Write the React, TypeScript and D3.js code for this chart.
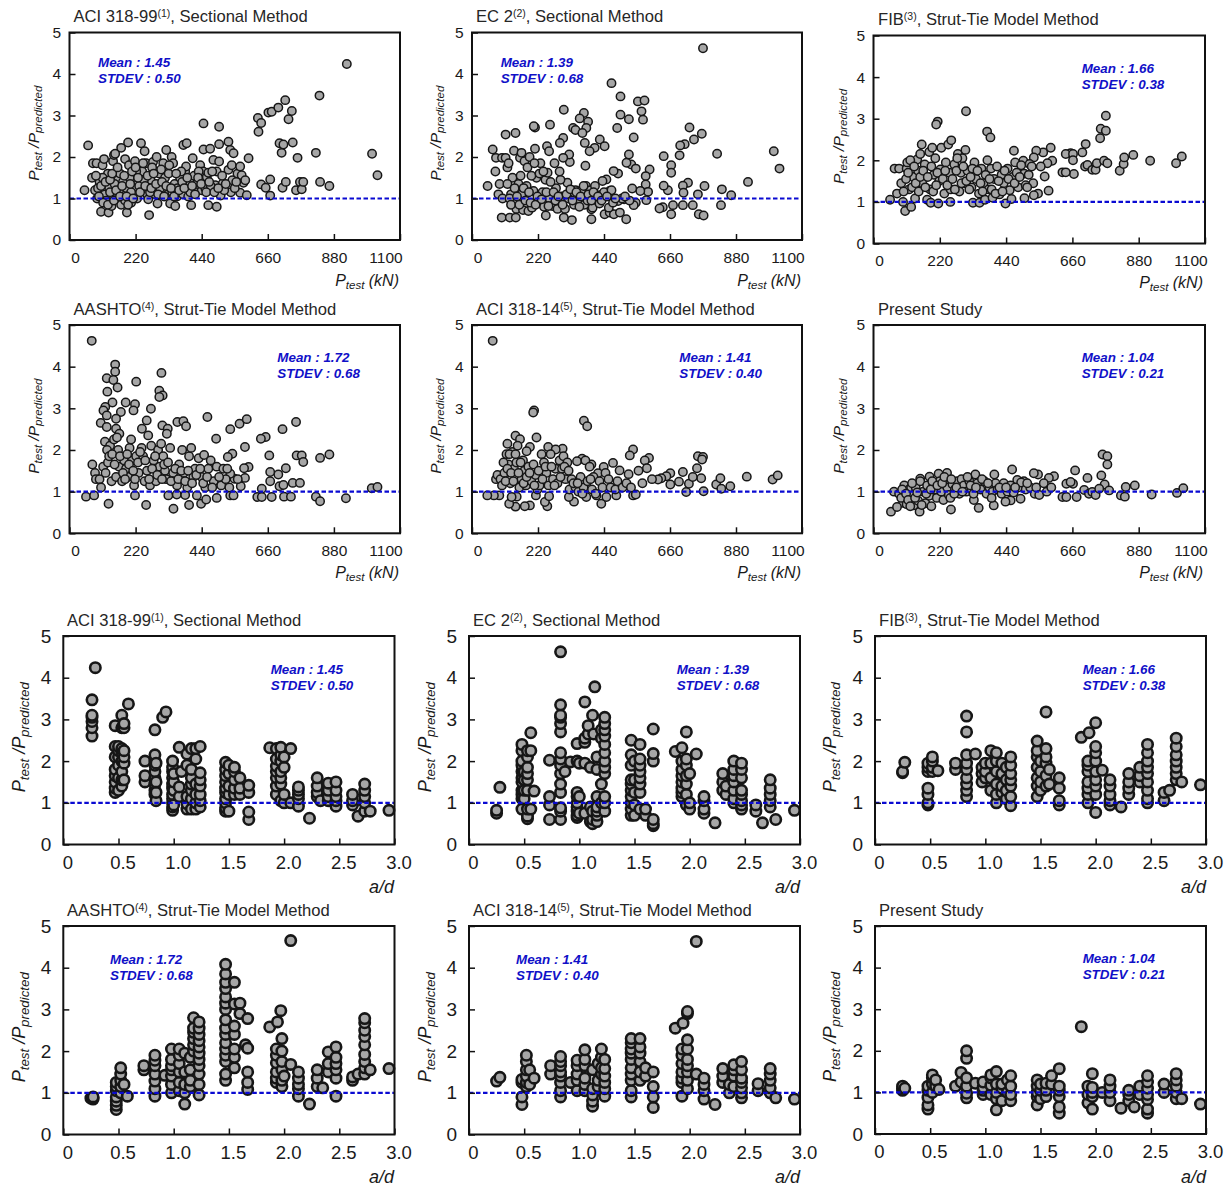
// App.tsx - twelve scatter panels, Ptest/Ppredicted against load and against a/d
import React, { useEffect, useRef } from 'react';
import * as d3 from 'd3';

type Pair = number[];
type Column = [number, number[]];

// ---- Ptest (kN) vs ratio, read from the top two rows ----
const aci99ByLoad: Pair[] = [
  [50,1.2],[62,2.28],[75,1.5],[78,1.85],[90,1.85],[85,1.2],[92,1.0],[100,1.4],[105,.68],[110,1.8],[115,1.95],[118,1.1],[122,.95],[128,1.6],[130,.66],[132,1.25],
  [140,.82],[145,1.9],[148,2.05],[152,2.08],[158,1.0],[162,1.45],[168,1.6],[172,.85],[178,1.4],[180,1.1],[185,.95],[172,2.22],[195,2.35],[185,1.95],[198,1.8],[191,.66],
  [205,.9],[210,1.25],[215,1.5],[218,1.9],[225,1.0],[232,1.3],[240,1.6],[242,1.65],[238,2.33],[250,2.14],[255,1.85],[258,1.1],[262,.98],[265,.6],[270,1.45],[278,1.88],
  [285,1.1],[290,2.0],[293,.88],[298,1.6],[302,1.25],[312,1.85],[318,1.5],[322,2.17],[328,1.1],[335,.88],[340,2.0],[345,1.85],[350,1.35],[352,.82],[358,1.05],[368,1.5],
  [378,1.1],[385,1.65],[379,2.29],[390,2.33],[388,1.77],[395,1.05],[400,1.4],[405,.84],[410,1.97],[415,1.55],[420,1.25],[440,1.2],[435,1.8],[445,1.65],[446,2.18],[462,.84],
  [468,2.2],[457,1.52],[462,1.62],[479,1.93],[490,1.65],[490,.8],[485,1.32],[498,2.31],[498,1.89],[498,2.73],[446,2.81],[503,1.07],[510,1.36],[529,2.37],[529,1.69],[535,2.17],
  [546,2.09],[537,1.15],[540,1.8],[542,1.44],[559,1.6],[568,1.77],[568,1.14],[573,1.56],[579,1.38],[585,1.44],[590,1.08],[596,1.97],[627,2.94],[638,2.82],[629,2.61],
  [638,1.34],[653,1.26],[668,1.46],[668,1.07],[662,3.07],[673,3.09],[695,3.19],[718,3.37],[740,3.11],[729,2.91],[699,2.33],[712,2.3],[743,2.35],[706,2.1],[759,1.98],[709,1.26],
  [720,1.4],[754,1.2],[767,1.4],[773,1.22],[778,1.4],[820,2.1],[834,1.4],[832,3.48],[865,1.3],[923,4.24],[1007,2.08],[1025,1.56],
  [95,1.25],[110,1.5],[135,1.15],[150,1.35],[165,1.2],[190,1.25],[200,1.5],[205,1.15],[222,1.65],[248,1.45],[268,1.15],[275,1.75],[305,1.7],[330,1.6],[342,1.15],[360,1.25],
  [372,1.65],[402,1.15],[425,1.35],[430,1.65],[452,1.25],[470,1.3],[475,1.65],[515,1.2],[550,1.25],
  [88,1.55],[98,1.05],[105,1.3],[112,.9],[120,1.4],[128,.85],[135,1.45],[142,1.6],[148,.95],[155,1.2],[160,1.75],[168,1.05],[175,1.3],[182,1.55],[190,1.05],[195,.85],[202,1.35],[208,1.65],[212,1.0],
  [220,1.75],[228,1.5],[235,1.15],[245,1.85],[252,1.3],[260,1.55],[272,1.25],[280,1.6],[288,1.35],[295,1.1],[308,1.4],[315,1.05],[322,1.3],[332,1.8],[338,1.25],[348,1.05],[355,1.6],[365,1.2],[375,1.4],
  [382,1.25],[392,1.5],[408,1.3],[418,1.1],[428,1.5],[438,1.35],[455,1.15],[465,1.4],[482,1.15],[495,1.25],[508,1.55],[520,1.35],[555,1.4],
];

const ec2ByLoad: Pair[] = [
  [770,4.62],[465,3.78],[495,3.46],[553,3.34],[575,3.36],[565,3.1],[570,2.9],[495,3.02],[523,2.91],[484,2.7],[539,2.47],[306,3.14],[373,3.06],[359,2.93],[387,2.85],[381,2.7],
  [337,2.7],[345,2.65],[368,2.58],[210,2.71],[206,2.74],[260,2.78],[112,2.54],[145,2.58],[304,2.46],[293,2.34],[426,2.42],[376,2.34],[442,2.26],[409,2.22],[392,2.14],[250,2.26],
  [257,2.14],[69,2.18],[725,2.71],[766,2.56],[740,2.42],[709,2.31],[694,2.28],[692,2.04],[639,2.02],[664,1.8],[664,1.62],[817,2.08],[1006,2.14],[1025,1.72],[920,1.4],[864,1.08],
  [833,1.22],[830,.84],[775,1.3],[753,1.1],[736,.84],[756,.62],[772,.59],[720,1.38],[703,1.31],[705,1.14],[703,.84],[670,.84],[664,.62],[653,1.2],[639,1.31],[636,.79],[625,.76],
  [592,1.7],[579,1.54],[579,1.34],[587,1.16],[581,.96],[561,1.18],[534,1.24],[546,.9],[539,.84],[514,.5],[507,.98],[531,1.82],[515,1.86],[523,2.06],[546,1.72],[487,1.6],[472,1.66],
  [459,1.18],[448,1.46],[435,1.42],[442,.62],[459,.66],[473,.62],[493,.66],[487,.94],[456,.78],[426,1.08],[398,.5],[398,.74],[378,1.79],[326,1.88],[324,2.06],[304,1.98],[333,.48],
  [306,.54],[246,.59],[99,.54],[126,.54],[146,.54],[52,1.3],[78,1.65],[80,1.98],[92,1.35],[88,1.1],[100,1.98],[112,1.98],[118,1.75],[122,1.85],[102,1.0],[130,1.1],[135,1.5],[138,.88],
  [140,2.15],[148,.75],[155,1.35],[160,1.98],[165,2.1],[165,1.1],[170,.72],[175,1.9],[182,1.3],[185,1.75],[188,.7],[192,2.0],[200,.78],[205,1.18],[210,2.2],[215,1.5],[222,.92],[228,1.85],
  [235,1.15],[240,.8],[245,1.45],[252,1.62],[258,1.0],[268,.82],[275,1.85],[280,1.25],[285,.75],[292,1.65],[298,1.05],[310,.75],[318,1.38],[322,1.0],[340,.85],[345,1.2],[355,.95],
  [365,1.2],[375,.85],[380,1.3],[385,.95],[395,1.2],[402,.78],[410,1.3],[415,1.0],[425,.88],[440,1.15],[465,1.2],[470,.9],[500,1.0],[525,.95],
  [118,1.35],[125,1.0],[130,.85],[142,1.25],[150,1.05],[158,.85],[162,1.55],[172,1.25],[178,.95],[190,1.15],[195,.9],[198,1.55],[208,1.85],[212,.85],[218,1.05],[225,1.6],[232,.98],[238,1.65],[248,1.15],
  [255,.82],[262,1.4],[272,1.15],[278,.95],[288,1.05],[295,1.45],[302,.85],[315,1.1],[328,1.22],[335,.95],[348,1.15],[358,.8],[362,1.05],[372,1.3],[388,1.1],[398,.95],[405,1.15],[420,1.05],[432,.95],[450,1.05],[478,1.0],[510,1.05],
];

const fibByLoad: Pair[] = [
  [307,3.18],[213,2.93],[208,2.86],[377,2.69],[388,2.55],[771,3.07],[754,2.76],[771,2.71],[752,2.53],[704,2.39],[693,2.19],[654,2.17],[638,2.15],[662,2.15],[662,2.0],[665,1.67],[627,1.71],
  [638,1.71],[702,1.85],[710,1.89],[726,1.77],[737,1.77],[741,1.93],[765,1.99],[776,1.93],[817,1.75],[830,1.91],[832,2.07],[862,2.13],[918,1.99],[1004,1.93],[1023,2.09],[588,2.3],[563,2.19],
  [540,2.23],[532,2.07],[593,1.99],[577,1.93],[568,1.61],[581,1.27],[546,1.2],[532,1.16],[501,1.09],[466,2.23],[497,1.99],[518,1.91],[55,1.05],[70,1.8],[85,1.8],[78,1.2],[92,1.45],[98,1.0],
  [105,.78],[110,1.8],[112,1.95],[118,1.3],[125,.88],[128,1.35],[132,1.6],[138,1.08],[145,2.02],[148,1.75],[155,2.15],[160,2.38],[162,1.45],[170,1.9],[178,1.05],[185,2.2],[188,1.3],[190,.98],
  [195,2.3],[200,1.65],[205,2.05],[215,.96],[218,1.5],[222,1.78],[225,2.3],[235,1.2],[240,1.95],[248,2.38],[252,1.7],[256,1.3],[255,1.0],[258,2.48],[268,1.9],[280,2.15],[285,1.25],[290,1.7],
  [295,2.05],[300,1.45],[305,2.25],[312,1.75],[325,1.35],[330,.98],[335,1.95],[340,1.55],[350,1.2],[352,.98],[358,1.8],[365,1.45],[370,1.05],[378,2.0],[382,1.3],[390,1.8],[395,1.1],[400,1.55],
  [410,1.85],[418,1.18],[425,1.65],[432,1.45],[438,.96],[445,1.8],[452,1.28],[458,1.07],[462,1.6],[470,1.95],[480,1.35],[490,1.88],[500,1.68],[505,1.4],[515,1.65],[525,1.85],[530,1.45],[555,1.85],
  [100,1.25],[108,1.55],[115,1.7],[122,2.0],[135,1.85],[140,1.45],[150,1.25],[155,1.6],[165,1.75],[172,1.35],[180,1.6],[192,1.85],[198,1.25],[208,1.4],[212,1.7],[230,1.55],[238,1.75],[245,1.4],[262,1.55],
  [270,1.3],[275,1.75],[278,2.05],[292,1.45],[298,1.85],[308,1.5],[318,1.3],[322,1.6],[328,1.8],[345,1.75],[355,1.45],[362,1.25],[372,1.65],[385,1.55],[392,1.3],[405,1.2],[415,1.5],[428,1.25],[435,1.75],[448,1.55],[468,1.45],[475,1.7],[485,1.6],[510,1.35],
];

const aashtoByLoad: Pair[] = [
  [74,4.62],[152,4.05],[152,3.88],[124,3.72],[146,3.68],[160,3.5],[222,3.64],[126,3.4],[306,3.85],[299,3.42],[310,3.31],[299,3.27],[187,3.14],[218,3.1],[143,3.14],[119,3.03],[113,2.95],[124,2.83],
  [213,2.95],[171,2.91],[271,2.99],[104,2.65],[257,2.71],[124,2.55],[155,2.75],[155,2.51],[166,2.39],[241,2.51],[309,2.59],[327,2.51],[324,2.39],[359,2.67],[379,2.69],[388,2.57],[459,2.79],[566,2.63],
  [590,2.74],[535,2.5],[488,2.27],[754,2.67],[709,2.5],[653,2.31],[637,2.27],[584,2.07],[542,1.91],[527,1.83],[665,1.87],[756,1.87],[773,1.87],[778,1.71],[834,1.81],[865,1.89],[720,1.56],[695,1.41],
  [668,1.47],[668,1.25],[596,1.59],[581,1.56],[584,1.33],[570,1.13],[549,1.31],[535,1.43],[640,1.07],[625,.87],[640,.87],[673,.87],[699,1.13],[712,1.16],[714,.88],[737,.88],[743,1.21],[767,1.21],
  [820,.88],[834,.77],[920,.84],[1006,1.08],[1025,1.11],[55,.88],[82,.91],[130,.71],[218,.91],[255,.68],[346,.59],[398,.68],[438,.71],[455,.81],[490,.85],[535,.91],[546,.91],[329,.91],[357,.93],[385,.92],
  [424,.91],[76,1.65],[85,1.45],[88,1.3],[100,1.3],[105,1.1],[112,1.6],[118,2.2],[120,1.45],[128,1.7],[135,2.1],[140,1.25],[148,2.25],[155,1.35],[162,2.0],[165,1.6],[175,1.25],[182,1.75],[188,1.55],
  [195,1.35],[200,2.05],[205,2.25],[208,1.75],[215,1.15],[222,1.85],[230,1.45],[240,2.05],[245,1.85],[250,1.25],[258,1.5],[262,2.35],[268,1.15],[272,2.1],[280,1.75],[288,1.25],[295,2.0],[300,1.6],
  [305,2.15],[312,1.85],[318,1.5],[322,1.3],[335,2.05],[345,1.45],[358,1.15],[365,1.65],[375,2.0],[380,1.45],[392,1.1],[398,1.85],[405,2.05],[412,1.35],[418,1.55],[430,1.8],[440,1.35],[448,1.88],[452,1.1],
  [462,1.55],[470,1.75],[480,1.25],[490,1.6],[505,1.15],[512,1.55],[520,1.3],[532,1.1],[560,1.3],
  [125,2.0],[132,1.85],[142,1.9],[150,1.65],[158,2.3],[168,1.85],[178,1.45],[185,1.3],[192,1.9],[198,1.65],[212,1.5],[218,1.3],[228,1.7],[235,1.95],[252,1.75],[265,1.3],[275,1.55],[285,1.85],[292,1.4],
  [308,1.3],[315,1.65],[328,1.7],[338,1.25],[352,1.55],[362,1.3],[372,1.5],[385,1.25],[395,1.5],[408,1.2],[422,1.4],[435,1.55],[445,1.2],[458,1.35],[475,1.1],[498,1.35],[525,1.55],
];

const aci14ByLoad: Pair[] = [
  [69,4.62],[207,2.95],[204,2.9],[373,2.7],[384,2.57],[215,2.3],[145,2.34],[160,2.26],[118,2.15],[193,2.07],[182,1.97],[254,2.07],[302,2.03],[279,2.01],[537,2.01],[526,1.87],[590,1.81],[576,1.75],[583,1.56],
  [753,1.85],[770,1.83],[767,1.77],[750,1.56],[764,1.32],[772,1.01],[714,.99],[723,1.19],[703,1.47],[690,1.24],[661,1.44],[661,1.17],[648,1.37],[631,1.32],[620,1.29],[736,1.35],[814,1.17],[828,1.32],
  [831,1.07],[861,1.13],[916,1.36],[1002,1.29],[1019,1.39],[492,1.51],[470,1.69],[439,1.59],[420,1.44],[398,1.65],[367,1.79],[350,1.73],[431,.71],[481,.91],[448,.87],[415,.91],[381,.87],[340,.76],[323,.87],
  [251,.65],[243,.75],[257,.89],[213,.91],[193,.67],[176,.65],[145,.64],[124,.71],[149,.88],[132,.87],[91,.91],[73,.91],[51,.91],[537,.91],[546,.93],[80,1.3],[85,1.4],[95,1.3],[100,1.15],[108,1.45],[115,1.9],
  [122,1.65],[128,1.2],[135,1.95],[140,1.55],[148,1.7],[152,2.1],[158,1.1],[165,1.3],[170,1.75],[175,1.5],[180,1.15],[188,1.6],[198,1.25],[205,1.65],[212,1.4],[218,1.05],[225,1.15],[232,1.9],[240,1.7],
  [248,1.45],[255,1.15],[262,1.9],[270,1.3],[278,1.55],[285,1.2],[292,1.75],[300,1.55],[305,1.85],[312,1.3],[318,1.7],[325,1.05],[332,1.3],[345,1.1],[355,1.0],[362,1.35],[372,1.1],[378,1.75],[385,1.25],
  [392,1.6],[400,1.05],[405,1.35],[412,.95],[425,1.25],[435,1.1],[445,1.45],[455,1.3],[462,1.1],[478,1.05],[485,1.25],[502,1.1],[515,1.2],[522,1.42],[530,1.1],[555,1.5],[568,1.2],[600,1.3],
  [105,1.7],[112,1.25],[118,1.55],[125,1.9],[130,1.45],[138,1.25],[145,1.9],[155,1.45],[162,1.7],[172,1.2],[182,1.35],[192,1.45],[208,1.15],[222,1.5],[235,1.3],[245,1.6],[265,1.6],[275,1.15],[295,1.35],[308,1.6],[322,1.5],[338,1.2],[352,1.2],[368,.95],[395,1.3],
];

const presentByLoad: Pair[] = [
  [760,1.89],[776,1.85],[776,1.65],[756,1.39],[767,1.17],[782,1.03],[710,1.33],[669,1.51],[662,1.19],[640,1.19],[654,1.23],[674,.87],[627,.87],[640,.87],[699,1.04],[715,.95],[726,.99],[737,.92],[749,1.07],
  [821,.91],[834,.88],[837,1.11],[867,1.15],[923,.93],[1007,.97],[1028,1.08],[460,1.53],[599,1.37],[582,1.33],[546,1.41],[532,1.44],[499,1.25],[477,1.28],[488,.83],[455,.79],[438,.76],[399,.67],[349,.61],
  [333,.8],[257,.57],[58,.52],[153,.52],[133,.67],[98,.73],[78,.63],[401,1.41],[338,1.41],[244,1.45],[216,1.43],[186,1.36],[155,1.31],[68,1.0],[85,.95],[92,.85],[102,1.15],[110,.7],[118,1.05],[125,1.1],
  [132,.92],[140,1.1],[148,.78],[155,1.25],[165,1.0],[172,.72],[178,1.15],[185,.9],[192,.65],[198,1.2],[205,1.05],[210,.85],[220,1.25],[225,1.0],[232,.8],[238,1.2],[245,1.1],[250,.92],[255,.85],
  [262,1.18],[270,1.05],[278,1.25],[285,.95],[292,1.3],[300,1.15],[308,1.0],[318,1.25],[325,1.05],[332,.95],[345,1.2],[355,1.05],[368,1.25],[375,.95],[385,1.1],[395,1.0],[405,1.2],[412,1.05],[425,.95],
  [432,1.2],[445,1.0],[455,1.15],[465,.98],[480,1.1],[490,1.22],[505,1.05],[520,1.1],[535,.95],[540,1.1],[550,.92],[565,1.2],[575,1.0],[590,1.1],
  [95,1.05],[108,.95],[115,.8],[122,.65],[128,1.2],[138,.85],[145,.98],[160,.68],[175,.95],[190,1.05],[195,1.25],[212,1.15],[228,1.2],[235,1.35],[258,1.3],[268,.95],[275,1.1],[295,1.0],[312,1.35],[322,1.15],[340,1.1],[360,1.3],[380,1.2],[392,.85],[418,1.1],[440,1.1],[470,1.1],[510,1.2],
];

// ---- a/d vs ratio, each entry is one a/d value with the ratios stacked on it ----
const aci99ByRatio: Column[] = [
  [0.26,[2.6,2.8,2.95,3.05,3.1,3.47]],[0.29,[4.24]],
  [0.47,[1.25,1.35,1.5,1.65,1.8,2.1,2.35,2.85]],[0.5,[1.3,1.6,1.9,2.1,2.25,2.35]],[0.53,[1.4,1.55,1.75,2.0,2.2,2.3,2.8,3.1]],[0.55,[1.55,1.95,2.1,2.25,2.8,2.9]],[0.59,[3.37]],
  [0.74,[1.5,1.65,2.0]],[0.83,[1.2,1.3,1.45,1.6,1.75,1.9,2.0,2.15,2.75]],[0.84,[1.05,1.25,1.5,1.95]],[0.9,[3.05]],[0.93,[3.18]],
  [0.99,[.82,.9,1.0,1.1,1.2,1.35,1.45,1.6,1.75,1.85,2.0]],[1.0,[.95,1.3,1.5,1.7]],[1.05,[1.15,1.38,2.33]],[1.07,[1.75]],[1.12,[.85,.98,1.15,1.9,2.17]],[1.16,[.85,1.1,1.3,1.45,1.6,1.8,2.3]],
  [1.2,[.85,1.0,1.2,1.45,2.05,2.3]],[1.24,[.9,1.05,1.2,1.4,1.55,1.72,2.35]],
  [1.47,[.8,.88,1.0,1.1,1.25,1.35,1.5,1.65,1.8,1.97]],[1.5,[.8,1.2,1.4,1.7,1.9]],[1.55,[1.2,1.35,1.55,1.75,1.85]],[1.6,[1.2,1.35,1.6]],[1.68,[.6,.78,1.25,1.42]],
  [1.87,[2.32]],[1.93,[1.2,1.4,1.6,1.75,1.88,2.05,2.3]],[1.97,[1.05,1.45,1.6,1.75,2.0,2.15,2.33]],[2.0,[1.0,1.2,1.85,2.1]],[2.06,[1.0,2.3]],[2.13,[.92,1.1,1.2,1.3,1.38]],[2.23,[.63]],
  [2.3,[1.15,1.25,1.4,1.6]],[2.33,[1.05]],[2.4,[1.05,1.15,1.3,1.47]],[2.47,[.92,1.05,1.15,1.3,1.5]],[2.62,[.95,1.05,1.2]],[2.67,[.68]],[2.73,[.8,1.0,1.15,1.3,1.45]],[2.78,[.8]],[2.95,[.82]],
];

const ec2ByRatio: Column[] = [
  [0.25,[.75,.82]],[0.28,[1.37]],
  [0.48,[.85,1.1,1.2,1.3,1.5,1.6,1.75,1.9,2.0,2.25,2.4]],[0.5,[1.1,1.3,1.55,1.75]],[0.53,[.62,.68,.85,1.3,1.55,1.7,1.85,2.1,2.25]],[0.56,[.85,2.25,2.68]],[0.59,[1.28]],
  [0.73,[.6,.95,1.15,2.02]],[0.83,[.6,.8,.88,1.25,1.45,1.7,1.9,2.05,2.2,2.7,2.9,3.05,3.1,3.35,4.62]],[0.87,[1.75]],[0.92,[1.98]],
  [0.98,[.65,.7,.8,.9,1.0,1.15,1.25,2.0,2.42]],[1.0,[.75,1.15,1.95]],[1.05,[.75,1.95,2.45,2.55,3.42]],[1.08,[2.65,2.85]],[1.1,[.55,.9,1.85]],[1.12,[.5,.6,.8,3.1]],[1.13,[2.65]],[1.14,[3.78]],
  [1.16,[.55,.7,.8,.9,1.15,1.8,2.1]],[1.2,[1.0,1.45,2.55,2.75]],[1.23,[.8,1.0,1.15,1.7,1.85,2.0,2.2,2.4,2.6,2.75,2.9,3.05]],
  [1.47,[.7,.85,1.0,1.15,1.3,1.45,1.55,1.9,2.15,2.5]],[1.5,[.7,.95,1.25,1.55,2.0]],[1.55,[.85,1.25,1.45,1.6,1.75,1.9,2.05,2.4]],[1.6,[.7,.85]],[1.67,[.45,.5,.6,2.0,2.18,2.77]],
  [1.87,[2.23]],[1.93,[1.15,1.25,1.35,1.5,1.65,1.8,2.0,2.32]],[1.97,[.95,1.2,1.45,1.65,1.9,2.05,2.7]],[2.0,[.85,1.0,1.7]],[2.06,[2.17]],[2.13,[.75,.85,1.05,1.15]],[2.23,[.52]],
  [2.3,[1.3,1.5,1.7]],[2.33,[1.2,1.4]],[2.4,[1.0,1.1,1.3,1.5,1.65,1.8,2.0]],[2.47,[.85,.95,1.05,1.2,1.3,1.6,1.8,1.95]],[2.6,[.8,.95]],[2.66,[.52]],[2.73,[.9,1.05,1.2,1.35,1.55]],[2.78,[.6]],[2.95,[.82]],
];

const fibByRatio: Column[] = [
  [0.25,[1.72,1.75]],[0.27,[1.97]],
  [0.48,[.95,1.0,1.2,1.35,1.75,1.85,1.95]],[0.52,[1.75,1.85,2.0,2.1]],[0.57,[1.77]],
  [0.73,[1.8,1.95]],[0.83,[1.15,1.3,1.45,1.6,1.8,1.95,2.15,2.7,3.08]],[0.91,[2.17]],[0.97,[1.5,1.7,1.85]],[1.0,[1.6,1.75,1.95]],[1.05,[1.3,1.6,1.95,2.25]],[1.1,[1.0,1.2,1.45,1.75,2.0,2.2]],
  [1.15,[1.25,1.4,1.7,1.95]],[1.19,[1.1,1.3,1.55,1.85]],[1.23,[.93,1.15,1.4,1.55,1.7,1.9,2.1]],
  [1.47,[1.15,1.4,1.6,1.85,2.1,2.25,2.48]],[1.5,[1.3,1.5,1.75,2.0]],[1.55,[1.4,1.65,1.95,2.1,2.3,3.18]],[1.58,[1.45,1.8]],[1.67,[.95,1.05,1.35,1.6]],
  [1.87,[2.57]],[1.93,[1.0,1.2,1.35,1.5,1.75,1.9,2.0]],[1.94,[2.68]],[2.0,[.77,1.2,1.4,1.55,1.75,2.0,2.2,2.35,2.92]],[2.06,[1.78]],[2.13,[.95,1.05,1.2,1.4,1.55]],[2.23,[.9]],
  [2.3,[1.2,1.35,1.5,1.7]],[2.4,[1.5,1.65,1.85]],[2.47,[1.0,1.1,1.3,1.5,1.7,1.85,2.0,2.2,2.4]],[2.62,[1.05,1.25]],[2.67,[1.3]],[2.73,[1.55,1.7,1.85,2.0,2.15,2.35,2.55]],[2.78,[1.5]],[2.95,[1.43]],
];

const aashtoByRatio: Column[] = [
  [0.25,[.87]],[0.27,[.85,.9]],
  [0.48,[.6,.7,.8,.9,1.05,1.15,1.25]],[0.52,[1.0,1.15,1.3,1.45,1.6]],[0.55,[1.2]],[0.58,[.92]],
  [0.73,[1.55,1.65]],[0.83,[.92,1.1,1.28,1.45,1.65,1.78,1.9]],[0.92,[1.42]],[0.98,[1.0,1.2,1.4,1.55,1.65,1.8,2.05]],[1.05,[1.05,1.25,1.5,1.7,1.9,2.05]],[1.1,[.73,1.0,1.2,1.5,1.95]],[1.15,[1.15,1.3,1.55,1.85]],
  [1.18,[2.0,2.15,2.3,2.45,2.55,2.8]],[1.23,[.95,1.2,1.45,1.65,1.8,1.95,2.1,2.25,2.4,2.55,2.7]],
  [1.47,[1.3,1.45,1.75,1.9,2.05,2.2,2.4,2.55,2.75,3.0,3.15,3.3,3.5,3.65,3.85,4.08]],[1.55,[1.6,1.85,2.05,2.4,2.6,3.13,3.65]],[1.6,[2.9,3.15]],[1.65,[2.15]],[1.67,[1.08,1.25,1.5,2.07,2.78]],
  [1.87,[2.58]],[1.93,[1.25,1.35,1.5,1.72,1.9,2.05]],[1.94,[2.7]],[1.97,[2.97]],[1.98,[1.15,1.3,1.55,1.75,2.0,2.3]],[2.0,[1.4]],[2.06,[1.68,4.65]],[2.13,[.92,1.1,1.2,1.35,1.5]],[2.23,[.73]],
  [2.3,[1.15,1.35,1.55]],[2.35,[1.12]],[2.4,[1.5,1.7,1.98]],[2.47,[.92,1.35,1.55,1.7,1.85,2.1]],[2.62,[1.3,1.38]],[2.67,[1.45]],[2.73,[1.45,1.6,1.75,1.92,2.15,2.35,2.5,2.68,2.78]],[2.78,[1.55]],[2.95,[1.58]],
];

const aci14ByRatio: Column[] = [
  [0.25,[1.28]],[0.28,[1.37]],
  [0.48,[.72,.9,1.25,1.32]],[0.52,[1.15,1.25,1.4,1.55,1.75,1.9]],[0.55,[1.2,1.55]],[0.59,[1.35]],
  [0.74,[1.45,1.65]],[0.83,[.9,1.05,1.25,1.4,1.5,1.65,1.75,1.87]],[0.92,[1.25]],[0.98,[1.05,1.3,1.45,1.65,1.78]],[1.05,[1.05,1.2,1.35,1.65,1.8,2.03]],[1.12,[.68,.8,.95,1.1,1.55]],[1.17,[1.15,1.3,1.7]],[1.2,[1.45,1.6,1.85,2.05]],[1.23,[.92,1.1,1.25,1.4,1.58,1.8]],
  [1.47,[.9,1.05,1.3,1.45,1.6,1.8,1.95,2.05,2.2,2.3]],[1.55,[1.3,1.5,1.75,1.95,2.1,2.3]],[1.6,[1.4,1.6]],[1.67,[.65,.9,1.15,1.5]],
  [1.87,[2.55]],[1.93,[.92,1.25,1.35,1.5,1.7,1.9,2.05]],[1.94,[2.67]],[1.98,[1.1,1.3,1.5,1.65,1.8,2.05,2.27,2.9,2.95]],[2.06,[1.45,4.63]],[2.13,[.85,1.05,1.2,1.35]],[2.23,[.72]],
  [2.3,[1.25,1.4,1.58]],[2.36,[1.0,1.2]],[2.4,[1.15,1.4,1.55,1.67]],[2.47,[.88,1.0,1.12,1.25,1.35,1.55,1.75]],[2.62,[1.05,1.22]],[2.73,[1.0,1.12,1.3,1.45,1.58]],[2.78,[.88]],[2.95,[.85]],
];

const presentByRatio: Column[] = [
  [0.25,[1.05,1.1,1.15]],[0.27,[1.1]],
  [0.48,[.6,.7,.88,1.05,1.15]],[0.52,[1.0,1.2,1.35,1.42]],[0.55,[1.15,1.3]],[0.58,[1.07]],
  [0.73,[1.15]],[0.78,[1.25,1.48]],[0.83,[.87,.98,1.15,1.35,1.82,2.0]],[0.91,[1.22]],[0.98,[.95,1.05,1.12,1.25]],[1.05,[.95,1.17,1.35,1.42]],[1.1,[.58,.85,1.0,1.2,1.5]],[1.15,[.8,1.1,1.2]],[1.2,[1.0,1.3]],[1.23,[.8,.95,1.15,1.4]],
  [1.47,[.7,.9,1.0,1.15,1.3]],[1.5,[.85,1.05,1.2]],[1.55,[.9,1.05,1.22]],[1.6,[1.2,1.4]],[1.67,[.5,.65,.9,1.05,1.15,1.57]],
  [1.87,[2.58]],[1.93,[.75,.95,1.15]],[1.97,[.6,.9,1.0,1.12,1.45]],[2.06,[1.0]],[2.13,[.8,1.0,1.15,1.3]],[2.23,[.62]],
  [2.3,[.8,.95,1.05]],[2.35,[.65]],[2.4,[.95,1.15]],[2.47,[.5,.6,.83,.95,1.1,1.25,1.4]],[2.62,[1.0,1.2]],[2.73,[.85,1.0,1.15,1.3,1.45]],[2.78,[.85]],[2.95,[.72]],
];

const loadTicks = [0, 220, 440, 660, 880, 1100];
const ratioTicks = [0, 0.5, 1, 1.5, 2, 2.5, 3];
const yTicks = [0, 1, 2, 3, 4, 5];
const ratioTickLabels = ['0', '0.5', '1.0', '1.5', '2.0', '2.5', '3.0'];

const titles = ['ACI 318-99', 'EC 2', 'FIB', 'AASHTO', 'ACI 318-14', 'Present Study'];
const titleRefs = ['(1)', '(2)', '(3)', '(4)', '(5)', ''];
const titleTails = [', Sectional Method', ', Sectional Method', ', Strut-Tie Model Method', ', Strut-Tie Model Method', ', Strut-Tie Model Method', ''];
const means = ['1.45', '1.39', '1.66', '1.72', '1.41', '1.04'];
const stdevs = ['0.50', '0.68', '0.38', '0.68', '0.40', '0.21'];

const flatten = (cols: Column[]): Pair[] => cols.flatMap(([x, ys]) => ys.map(y => [x, y]));

// which study, frame, title anchor, stats anchor, y label baseline, x label anchor
const panels = [
  { i: 0, pts: aci99ByLoad, box: [69.5, 400, 32.5, 240], title: [73.5, 22], stat: [98, 67], yl: 38.5, xl: [399, 286] },
  { i: 1, pts: ec2ByLoad, box: [472, 802, 32.5, 240], title: [476, 22], stat: [500.7, 67], yl: 440.7, xl: [801, 286] },
  { i: 2, pts: fibByLoad, box: [873.5, 1205, 35.5, 243.5], title: [878, 25], stat: [1081.7, 73], yl: 844, xl: [1203, 288] },
  { i: 3, pts: aashtoByLoad, box: [69.5, 400, 325, 533.3], title: [73.5, 315], stat: [277.3, 362], yl: 38.5, xl: [399, 578] },
  { i: 4, pts: aci14ByLoad, box: [472, 802, 325, 533.3], title: [476, 315], stat: [679.3, 362], yl: 440.7, xl: [801, 578] },
  { i: 5, pts: presentByLoad, box: [873.5, 1205, 325, 533.3], title: [878, 315], stat: [1081.7, 362], yl: 844, xl: [1203, 578] },
  { i: 0, pts: flatten(aci99ByRatio), box: [63.3, 394.5, 636, 844.5], title: [67, 626], stat: [270.7, 674], yl: 25, xl: [394, 893] },
  { i: 1, pts: flatten(ec2ByRatio), box: [469, 800, 636, 844.5], title: [473, 626], stat: [676.7, 674], yl: 430.7, xl: [800, 893] },
  { i: 2, pts: flatten(fibByRatio), box: [875, 1206, 636, 844.5], title: [879, 626], stat: [1082.7, 674], yl: 836, xl: [1206, 893] },
  { i: 3, pts: flatten(aashtoByRatio), box: [63.3, 394.5, 926, 1134.5], title: [67, 916], stat: [110, 964], yl: 25, xl: [394, 1183] },
  { i: 4, pts: flatten(aci14ByRatio), box: [469, 800, 926, 1134.5], title: [473, 916], stat: [516, 964], yl: 430.7, xl: [800, 1183] },
  { i: 5, pts: flatten(presentByRatio), box: [875, 1206, 926, 1134], title: [879, 916], stat: [1082.7, 963], yl: 836, xl: [1206, 1183] },
];

const FONT = '"Liberation Sans", Arial, sans-serif';

function App() {
  const svgRef = useRef<SVGSVGElement>(null);

  useEffect(() => {
    const svg = d3.select(svgRef.current);
    svg.selectAll('*').remove();

    panels.forEach((p, n) => {
      const big = n >= 6; // the a/d panels use larger type and markers
      const [left, right, top, bottom] = p.box;
      const x = d3.scaleLinear().domain(big ? [0, 3] : [0, 1100]).range([left, right]);
      const y = d3.scaleLinear().domain([0, 5]).range([bottom, top]);
      const g = svg.append('g').attr('font-family', FONT);
      const tickFont = big ? 18.5 : 15.5;

      // points first, the dashed line sits on top of them
      g.append('g').selectAll('circle').data(p.pts).enter().append('circle')
        .attr('cx', d => x(d[0]))
        .attr('cy', d => y(d[1]))
        .attr('r', big ? 5.2 : 4.2)
        .attr('fill', '#a6a6a6')
        .attr('stroke', '#161616')
        .attr('stroke-width', big ? 2.6 : 1.5);

      g.append('line')
        .attr('x1', left).attr('x2', right)
        .attr('y1', y(1)).attr('y2', y(1))
        .attr('stroke', '#0a0ad2')
        .attr('stroke-width', 2.2)
        .attr('stroke-dasharray', '4.5 2.5');

      const xAxis = d3.axisBottom(x)
        .tickValues(big ? ratioTicks : loadTicks)
        .tickSize(-6)
        .tickFormat((d, k) => (big ? ratioTickLabels[k] : String(d)));
      const gx = g.append('g').attr('transform', `translate(0,${bottom})`).call(xAxis);
      gx.select('.domain').remove();
      gx.selectAll('line').attr('stroke', '#111').attr('stroke-width', 1.5);
      gx.selectAll('text')
        .attr('font-size', tickFont)
        .attr('font-family', FONT)
        .attr('fill', '#1a1a1a')
        .attr('dy', 0)
        .attr('y', big ? 24 : 22.5)
        .attr('x', (d, k) => (big ? 4 : k === 0 ? 5.5 : k === 5 ? -14.5 : 0));

      const gy = g.append('g').attr('transform', `translate(${left},0)`)
        .call(d3.axisLeft(y).tickValues(yTicks).tickSize(-6).tickFormat(d3.format('d')));
      gy.select('.domain').remove();
      gy.selectAll('line').attr('stroke', '#111').attr('stroke-width', 1.5);
      gy.selectAll('text')
        .attr('font-size', big ? 19 : 15.5)
        .attr('font-family', FONT)
        .attr('fill', '#1a1a1a')
        .attr('x', big ? -12 : -8.5);

      g.append('rect')
        .attr('x', left).attr('y', top)
        .attr('width', right - left).attr('height', bottom - top)
        .attr('fill', 'none')
        .attr('stroke', '#111')
        .attr('stroke-width', 2);

      // title with the reference number raised
      const title = g.append('text')
        .attr('x', p.title[0]).attr('y', p.title[1])
        .attr('font-size', 16.6)
        .attr('fill', '#262626');
      title.append('tspan').text(titles[p.i]);
      if (titleRefs[p.i]) {
        title.append('tspan').attr('dy', -5).attr('font-size', 10.5).text(titleRefs[p.i]);
        title.append('tspan').attr('dy', 5).text(titleTails[p.i]);
      }

      // mean and stdev
      const stat = g.append('g')
        .attr('font-size', 13.4)
        .attr('font-weight', 'bold')
        .attr('font-style', 'italic')
        .attr('fill', '#1010c8');
      stat.append('text').attr('x', p.stat[0]).attr('y', p.stat[1]).text(`Mean : ${means[p.i]}`);
      stat.append('text').attr('x', p.stat[0]).attr('y', p.stat[1] + 16).text(`STDEV : ${stdevs[p.i]}`);

      // y label
      const main = big ? 18 : 15.5;
      const small = big ? 13.3 : 11.5;
      const drop = big ? 4 : 3;
      const yl = g.append('text')
        .attr('transform', `translate(${p.yl},${(top + bottom) / 2 - 3}) rotate(-90)`)
        .attr('text-anchor', 'middle')
        .attr('font-style', 'italic')
        .attr('font-size', main)
        .attr('fill', '#1a1a1a');
      yl.append('tspan').text('P');
      yl.append('tspan').attr('font-size', small).attr('dy', drop).text('test');
      yl.append('tspan').attr('dy', -drop).text(' /P');
      yl.append('tspan').attr('font-size', small).attr('dy', drop).text('predicted');

      // x label
      const xl = g.append('text')
        .attr('x', p.xl[0]).attr('y', p.xl[1])
        .attr('text-anchor', 'end')
        .attr('font-style', 'italic')
        .attr('font-size', big ? 18 : 16)
        .attr('fill', '#1a1a1a');
      if (big) {
        xl.text('a/d');
      } else {
        xl.append('tspan').text('P');
        xl.append('tspan').attr('font-size', small).attr('dy', drop).text('test');
        xl.append('tspan').attr('dy', -drop).text(' (kN)');
      }
    });
  }, []);

  return (
    <svg
      ref={svgRef}
      width={1231}
      height={1187}
      style={{ position: 'absolute', left: 0, top: 0, background: '#fff' }}
    />
  );
}

export default App;
